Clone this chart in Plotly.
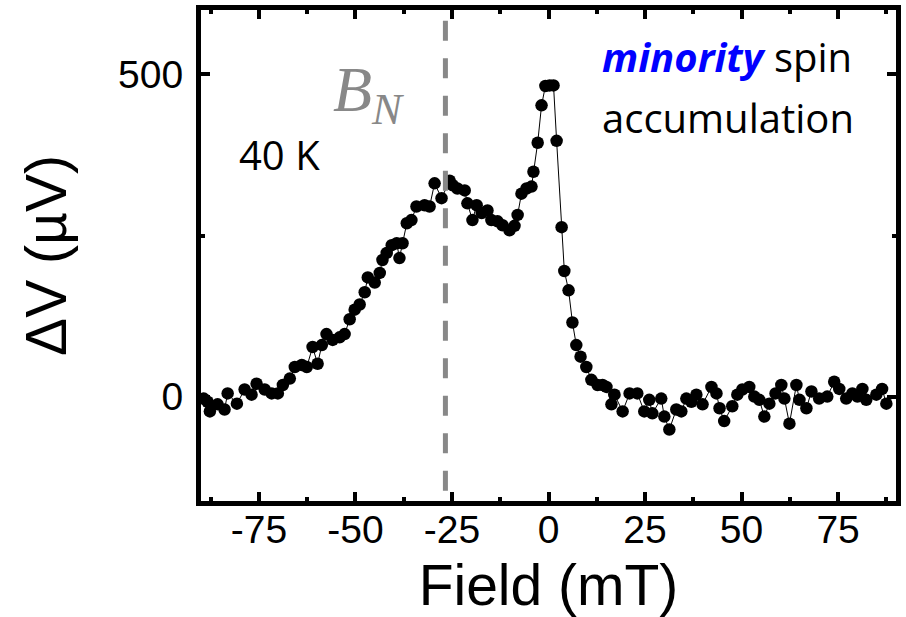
import plotly.graph_objects as go

# Field sweep (mT) and spin signal (µV)
field_mT = [
    -89.3, -88.3, -87.7, -85.7, -83.9, -83.1, -80.7, -78.7, -76.9, -75.6,
    -73.5, -71.7, -70.1, -68.8, -67.0, -65.7, -63.9, -62.6, -61.1, -59.8,
    -58.7, -57.5, -55.9, -54.1, -52.8, -51.5, -50.2, -48.9, -47.6, -46.8,
    -45.0, -43.7, -43.0, -41.9, -40.6, -39.3, -38.6, -37.8, -36.7, -35.5,
    -34.2, -32.1, -30.8, -29.5, -27.7, -25.6, -24.8, -23.6, -21.7, -21.0,
    -19.7, -18.6, -17.3, -15.8, -14.8, -13.2, -11.9, -10.1, -8.8, -8.0,
    -7.0, -5.7, -4.4, -3.9, -2.8, -1.8, -0.8, 0.3, 1.3, 2.1,
    3.4, 4.1, 5.2, 6.2, 7.2, 8.3, 9.8, 11.1, 12.7, 14.0,
    15.0, 16.3, 17.1, 19.2, 21.0, 23.0, 24.8, 26.1, 26.9, 29.2,
    30.0, 31.3, 33.1, 34.4, 35.7, 37.0, 38.3, 39.9, 42.2, 43.5,
    44.3, 45.5, 47.6, 48.9, 50.2, 52.0, 53.3, 54.6, 55.9, 57.2,
    58.8, 60.3, 61.1, 62.4, 64.2, 65.0, 66.8, 68.1, 70.1, 72.2,
    74.0, 75.3, 77.1, 78.7, 80.0, 81.3, 82.3, 84.9, 86.4, 87.5,
]
signal_uV = [
    -3, -8, -23, -12, -20, 5, -11, 11, 3, 20,
    11, 5, 5, 18, 28, 46, 49, 46, 77, 51,
    80, 97, 88, 92, 97, 120, 135, 143, 162, 185,
    177, 192, 212, 223, 235, 238, 215, 238, 269, 274,
    295, 297, 295, 331, 308, 335, 328, 323, 320, 300,
    274, 297, 285, 289, 274, 272, 266, 258, 265, 282,
    315, 323, 326, 349, 394, 452, 482, 483, 483, 397,
    263, 195, 165, 115, 80, 62, 46, 26, 18, 18,
    15, -12, 3, -23, 5, 5, -23, -5, -26, -3,
    -31, -51, -20, -23, -3, -8, 3, -12, 15, 5,
    -18, -38, -15, 3, 11, 15, 0, -5, -31, -11,
    5, 18, -3, -42, 18, -5, -18, 8, -3, 0,
    23, 12, -3, 5, 0, 12, -5, 3, 12, -11,
]

x_ticks = [-75, -50, -25, 0, 25, 50, 75]
y_ticks = [0, 500]
x_range = [-90, 90]
y_range = [-162, 600]
b_n_field = -26.7

fig = go.Figure()
fig.add_trace(go.Scatter(
    x=field_mT, y=signal_uV, mode="lines+markers",
    line=dict(color="black", width=1),
    marker=dict(color="black", size=12.5, line=dict(width=0)),
    showlegend=False,
))

fig.add_shape(type="line", xref="x", yref="y",
              x0=b_n_field, x1=b_n_field, y0=-146, y1=600,
              line=dict(color="#888888", width=5, dash="20px,17.5px"))

tick_font = dict(family="Liberation Sans, Arial", size=39, color="black")
axis_common = dict(
    showline=True, linewidth=5, linecolor="black", mirror="ticks",
    ticks="inside", ticklen=9, tickwidth=4, tickcolor="black",
    showgrid=False, zeroline=False, tickfont=tick_font,
)

fig.update_xaxes(
    range=x_range, tickvals=x_ticks, ticktext=[str(v) for v in x_ticks],
    minor=dict(ticks="inside", dtick=12.5, tick0=0, ticklen=4, tickwidth=4, tickcolor="black"),
    title=dict(text="Field (mT)", font=dict(family="Liberation Sans, Arial", size=57, color="black"), standoff=18),
    ticklabelstandoff=-10,
    **axis_common,
)
fig.update_yaxes(
    range=y_range, tickvals=y_ticks, ticktext=[str(v) for v in y_ticks],
    minor=dict(ticks="inside", dtick=250, tick0=0, ticklen=4, tickwidth=4, tickcolor="black"),
    title=dict(text="ΔV (µV)", font=dict(family="Liberation Sans, Arial", size=57, color="black"), standoff=35),
    ticklabelstandoff=5,
    **axis_common,
)

fig.add_annotation(x=-46.5, y=469, xref="x", yref="y", showarrow=False,
                   text="<i>B</i><sub><i>N</i></sub>",
                   font=dict(family="Liberation Serif, DejaVu Serif", size=64, color="#888888"))
fig.add_annotation(x=-69.6, y=375, xref="x", yref="y", showarrow=False,
                   text="40 K", font=dict(family="Open Sans", size=40, color="black"))
fig.add_annotation(x=13.3, y=528, xref="x", yref="y", showarrow=False, xanchor="left",
                   text="<b><i><span style='color:#0000FF'>minority</span></i></b> spin",
                   font=dict(family="Open Sans", size=40, color="black"))
fig.add_annotation(x=13.3, y=433, xref="x", yref="y", showarrow=False, xanchor="left",
                   text="accumulation",
                   font=dict(family="Open Sans", size=40, color="black"))

fig.update_layout(
    width=906, height=617,
    margin=dict(l=201, r=9, t=5, b=116),
    paper_bgcolor="white", plot_bgcolor="white",
)

fig.write_html("out.html")
